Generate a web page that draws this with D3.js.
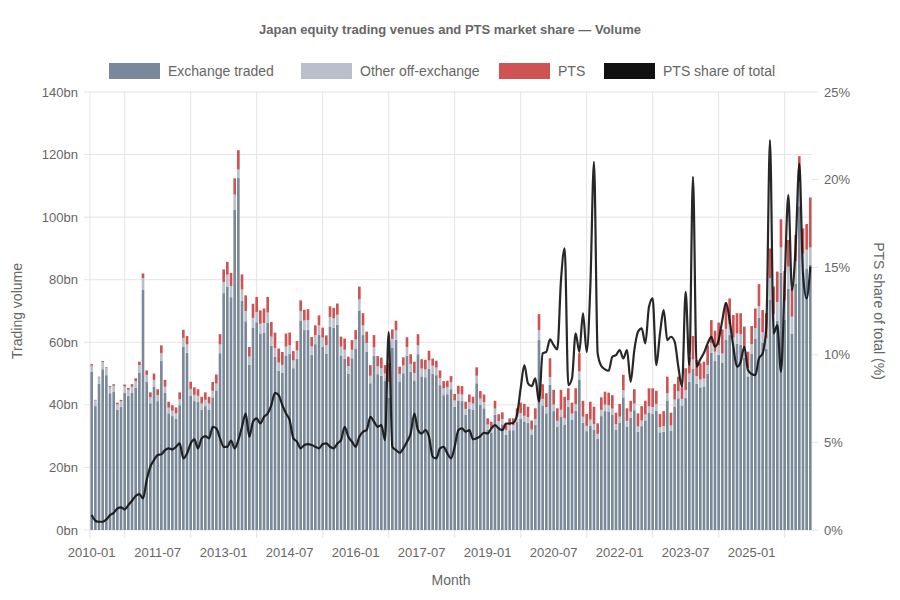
<!DOCTYPE html>
<html>
<head>
<meta charset="utf-8">
<script src="https://cdn.jsdelivr.net/npm/d3@7"></script>
<style>
  body { margin: 0; background: #fff; font-family: "Helvetica Neue", Arial, "Liberation Sans", sans-serif; }
  text { fill: #666; }
</style>
</head>
<body>
<svg id="chart" width="900" height="600"></svg>
<script>
// monthly, 2010-01 onwards (bn shares)
const totalVolume = [
  53,41.6,49,54,52,46,46.6,40.7,41.6,46.5,45.4,46.6,48.5,53.8,82,51,44,50,45,59,48,41,39.9,39.2,44,64,62,47.4,45.6,45,42.6,44,42.6,47.3,49.7,62.6,
  83.3,85.7,82.2,112.4,121.4,81.7,75,58.5,72.3,74.5,70.2,70.8,74.5,66.5,63.1,58,56.9,62.8,63.1,57.2,60.4,73.4,70.4,70.6,61.7,65.4,68.6,64.7,62.2,71.5,71,
  72.4,61.8,61.2,55.4,60.7,63.9,77.8,69.3,63.4,52.7,62.3,55.6,55.1,52.7,53.3,64.1,66.9,52.2,55.2,61.6,56.2,53.8,62.6,54.6,54.4,57.3,54.8,54.1,51,47.6,
  47.7,49.2,43.5,46.1,46,41,43.3,42.6,52,44.4,43.3,35.7,34.6,41.3,37,37.6,34.1,35.7,35.7,38.9,40.7,40.3,39.4,35,38.9,69,46.6,43.7,54.9,44.8,38.9,44.8,42.6,45.3,
  40.7,45.3,56.5,41.3,37.1,41,39.4,34.1,42.4,44.2,43.9,43.1,37.5,40.3,49.6,38.9,41.3,45,37.3,39.6,41.3,45.3,45.3,44.5,37.1,38,49,37.5,46.7,49,
  45.6,51.7,55.2,62,54.3,53.3,53.8,59,67.1,63.7,66.3,64.1,72.7,74,68.7,69.3,69.3,65,57,65.2,70.8,78.6,70.3,69.3,90,77.8,82.6,99.3,82.8,92.7,
  77.2,94.3,119.5,96.4,97.8,106.3
];
const ptsVolume = [
  0.5,0.2,0.2,0.3,0.3,0.4,0.5,0.5,0.5,0.6,0.6,0.8,0.9,1.1,1.5,1.4,1.6,2.0,1.9,2.5,2.2,1.9,1.8,1.9,2.2,2.6,2.7,2.3,2.4,2.1,2.2,2.4,2.2,2.8,2.9,3.3,
  4.0,4.1,4.2,5.2,6.2,4.8,5.0,3.1,4.5,4.8,4.3,4.6,5.0,4.7,4.9,4.5,4.1,4.2,4.0,3.0,3.0,3.4,3.4,3.5,3.0,3.1,3.2,3.2,3.1,3.4,3.3,
  3.6,3.2,3.6,3.0,3.1,3.0,4.1,3.9,3.6,3.4,3.9,3.3,3.3,2.7,6.0,3.0,3.1,2.3,2.6,3.1,3.1,3.6,3.6,3.0,3.1,3.1,2.3,2.2,2.4,2.3,
  2.1,2.0,2.1,2.6,2.7,2.3,2.5,2.2,2.7,2.4,2.4,2.0,2.0,2.5,2.2,2.1,2.1,2.2,2.2,2.6,3.3,3.8,3.3,2.9,3.4,5.1,4.7,4.4,6.0,4.7,4.0,6.4,6.9,3.8,
  3.5,5.1,5.8,5.1,3.8,5.7,5.5,3.4,4.0,4.1,4.0,4.3,3.7,4.1,4.9,4.0,3.5,4.6,4.2,4.6,4.4,5.8,6.0,4.2,4.2,4.8,5.3,4.1,5.0,4.6,
  3.7,7.0,5.2,7.5,5.1,5.2,5.4,6.3,7.4,6.7,7.2,7.7,8.4,8.2,7.2,6.5,6.7,6.8,5.2,5.8,6.3,7.0,7.1,8.0,9.5,8.7,9.7,9.0,9.5,8.5,
  9.0,8.5,8.0,8.0,8.2,16.0
];
const otherVolume = [
  2.0,1.8,2.1,2.3,2.2,1.9,2.0,1.7,1.8,2.0,1.9,2.0,2.1,2.4,3.6,2.2,1.9,2.1,1.9,2.5,2.0,1.8,1.7,1.7,1.9,2.8,2.7,2.1,2.0,2.0,1.9,2.0,1.9,2.1,2.2,2.8,
  3.6,3.8,3.6,4.9,2.7,3.6,3.3,2.6,3.2,3.3,3.1,3.1,3.3,2.9,2.8,2.6,2.5,2.8,2.8,2.5,2.7,3.2,3.1,3.1,2.7,2.9,3.0,2.9,2.8,3.2,3.1,
  3.2,2.8,2.8,2.5,2.7,2.9,3.5,3.1,2.9,2.4,2.8,2.5,2.5,2.4,5.0,2.9,3.0,2.4,2.5,2.8,2.5,2.4,2.8,2.5,2.5,2.6,2.5,2.4,2.3,2.2,
  2.2,2.2,2.0,2.1,2.1,1.9,2.0,1.9,2.4,2.0,2.0,1.6,1.6,1.9,1.7,1.7,1.6,1.6,1.6,1.8,1.9,1.8,1.8,1.6,1.8,3.2,2.1,2.0,2.5,2.1,1.8,2.1,2.0,2.1,
  1.9,2.1,2.6,1.9,1.7,1.9,1.8,1.6,2.0,2.1,2.0,2.0,1.7,1.9,2.3,1.8,1.9,2.1,1.7,1.8,1.9,2.1,2.1,2.1,1.7,1.8,2.3,1.7,2.2,2.3,
  2.1,2.4,2.6,2.9,2.5,2.5,2.5,2.8,3.1,3.0,3.1,3.0,3.4,3.5,3.2,3.3,3.3,3.1,2.7,3.1,3.3,3.7,3.3,3.3,7.0,5.5,6.0,8.0,6.0,7.0,
  5.5,7.0,8.0,6.0,6.0,5.5
];
const ptsShare = [
  0.85,0.53,0.47,0.47,0.6,0.85,0.98,1.23,1.29,1.18,1.42,1.67,1.94,2.05,1.8,2.85,3.61,3.99,4.28,4.33,4.56,4.66,4.6,4.75,4.94,4.09,4.37,4.94,5.17,4.66,
  5.23,5.36,5.23,5.89,5.8,5.23,4.75,4.75,5.1,4.66,5.13,5.89,6.65,5.32,6.18,6.37,6.08,6.46,6.65,7.13,7.83,7.7,7.13,6.65,6.27,5.23,5.04,4.66,4.85,4.9,
  4.85,4.75,4.66,4.9,4.94,4.75,4.66,
  4.94,5.13,5.89,5.32,5.04,4.75,5.32,5.61,5.7,6.46,6.18,5.89,5.99,5.13,11.3,4.75,4.56,4.41,4.66,5.04,5.51,6.65,5.7,5.51,5.7,5.32,4.18,4.09,4.66,4.75,
  4.37,4.09,4.75,5.7,5.8,5.61,5.7,5.17,5.23,5.36,5.55,5.51,5.8,5.99,5.8,5.7,6.08,6.08,6.12,6.56,8.08,9.41,8.37,8.21,8.65,7.32,10.08,10.17,10.88,10.55,
  10.31,14.26,16.07,8.27,
  8.65,11.22,10.17,12.36,10.17,13.88,21.02,10.08,9.36,9.17,9.09,9.89,9.98,10.27,9.79,10.27,8.46,10.27,11.32,11.51,10.65,12.74,13.22,9.41,11.22,12.55,10.84,11.03,10.75,9.32,
  8.18,13.6,9.41,20.16,9.32,9.74,10.12,10.65,11.03,10.46,10.84,11.98,12.97,11.98,10.46,9.32,9.6,10.46,9.13,8.9,8.84,9.79,10.08,11.6,22.26,11.22,11.7,9.03,14.07,19.12,
  13.69,16.17,20.92,14.65,13.22,15.03
];
const volumeTicks = [0, 20, 40, 60, 80, 100, 120, 140];
const shareTicks = [0, 5, 10, 15, 20, 25];

const months = totalVolume.map((d, i) => {
  const y = 2010 + Math.floor(i / 12), m = i % 12 + 1;
  return y + "-" + (m < 10 ? "0" + m : m);
});
const exchangeVolume = totalVolume.map((t, i) => Math.max(0, t - ptsVolume[i] - otherVolume[i]));

const colors = { exchange: "#7a8999", other: "#b8c1cb", pts: "#d05353", line: "#111" };
const m = { left: 90, right: 812, top: 92, bottom: 530 };
const svg = d3.select("#chart");

const x = d3.scaleBand().domain(months).range([m.left, m.right]).paddingInner(0.28).paddingOuter(0.1);
const y = d3.scaleLinear().domain([0, 140]).range([m.bottom, m.top]);
const y2 = d3.scaleLinear().domain([0, 25]).range([m.bottom, m.top]);
const cx = d => x(d) + x.bandwidth() / 2;

// grid
const gridMonths = months.filter((d, i) => i % 18 === 9);
svg.append("g").selectAll("line").data(gridMonths).join("line")
  .attr("x1", cx).attr("x2", cx).attr("y1", m.top).attr("y2", m.bottom + 8)
  .attr("stroke", "#e4e4e4");
svg.append("line").attr("x1", m.left).attr("x2", m.left).attr("y1", m.top).attr("y2", m.bottom + 8).attr("stroke", "#e4e4e4");
svg.append("g").selectAll("line").data(volumeTicks).join("line")
  .attr("x1", m.left - 6).attr("x2", m.right).attr("y1", d => y(d)).attr("y2", d => y(d))
  .attr("stroke", "#e4e4e4");
svg.append("g").selectAll("line").data(shareTicks).join("line")
  .attr("x1", m.right).attr("x2", m.right + 6).attr("y1", d => y2(d)).attr("y2", d => y2(d))
  .attr("stroke", "#e4e4e4");

// stacked bars
const stackData = months.map((d, i) => ({ month: d, exchange: exchangeVolume[i], other: otherVolume[i], pts: ptsVolume[i] }));
const series = d3.stack().keys(["exchange", "other", "pts"])(stackData);
svg.append("g").selectAll("g").data(series).join("g")
  .attr("fill", s => colors[s.key])
  .selectAll("rect").data(s => s).join("rect")
  .attr("x", d => x(d.data.month)).attr("width", x.bandwidth())
  .attr("y", d => y(d[1])).attr("height", d => y(d[0]) - y(d[1]));

// share line
const line = d3.line().x((d, i) => cx(months[i])).y(d => y2(d)).curve(d3.curveMonotoneX);
svg.append("path").datum(ptsShare).attr("d", line)
  .attr("fill", "none").attr("stroke", colors.line).attr("stroke-width", 2.2).attr("stroke-opacity", 0.9);

// axes labels
const tickFont = "13px";
svg.append("g").selectAll("text").data(volumeTicks).join("text")
  .attr("x", m.left - 12).attr("y", d => y(d) + 4.5).attr("text-anchor", "end")
  .style("font-size", tickFont).text(d => d + "bn");
svg.append("g").selectAll("text").data(shareTicks).join("text")
  .attr("x", m.right + 12).attr("y", d => y2(d) + 4.5)
  .style("font-size", tickFont).text(d => d + "%");
svg.append("g").selectAll("text").data(months.filter((d, i) => i % 18 === 0)).join("text")
  .attr("x", cx).attr("y", m.bottom + 27).attr("text-anchor", "middle")
  .style("font-size", tickFont).text(d => d);

svg.append("text").attr("transform", "translate(22," + ((m.top + m.bottom) / 2) + ") rotate(-90)")
  .attr("text-anchor", "middle").style("font-size", "14px").text("Trading volume");
svg.append("text").attr("transform", "translate(874," + ((m.top + m.bottom) / 2) + ") rotate(90)")
  .attr("text-anchor", "middle").style("font-size", "14px").text("PTS share of total (%)");
svg.append("text").attr("x", (m.left + m.right) / 2).attr("y", 585).attr("text-anchor", "middle")
  .style("font-size", "14px").text("Month");

svg.append("text").attr("x", 450).attr("y", 34).attr("text-anchor", "middle")
  .style("font-size", "13px").style("font-weight", "bold").text("Japan equity trading venues and PTS market share \u2014 Volume");

// legend
const legendItems = [
  { label: "Exchange traded", color: colors.exchange, x: 109 },
  { label: "Other off-exchange", color: colors.other, x: 301 },
  { label: "PTS", color: colors.pts, x: 499 },
  { label: "PTS share of total", color: colors.line, x: 604 }
];
const lg = svg.append("g").selectAll("g").data(legendItems).join("g")
  .attr("transform", d => "translate(" + d.x + ",63)");
lg.append("rect").attr("width", 51).attr("height", 16).attr("fill", d => d.color);
lg.append("text").attr("x", 59).attr("y", 13).style("font-size", "14px").text(d => d.label);
</script>
</body>
</html>
